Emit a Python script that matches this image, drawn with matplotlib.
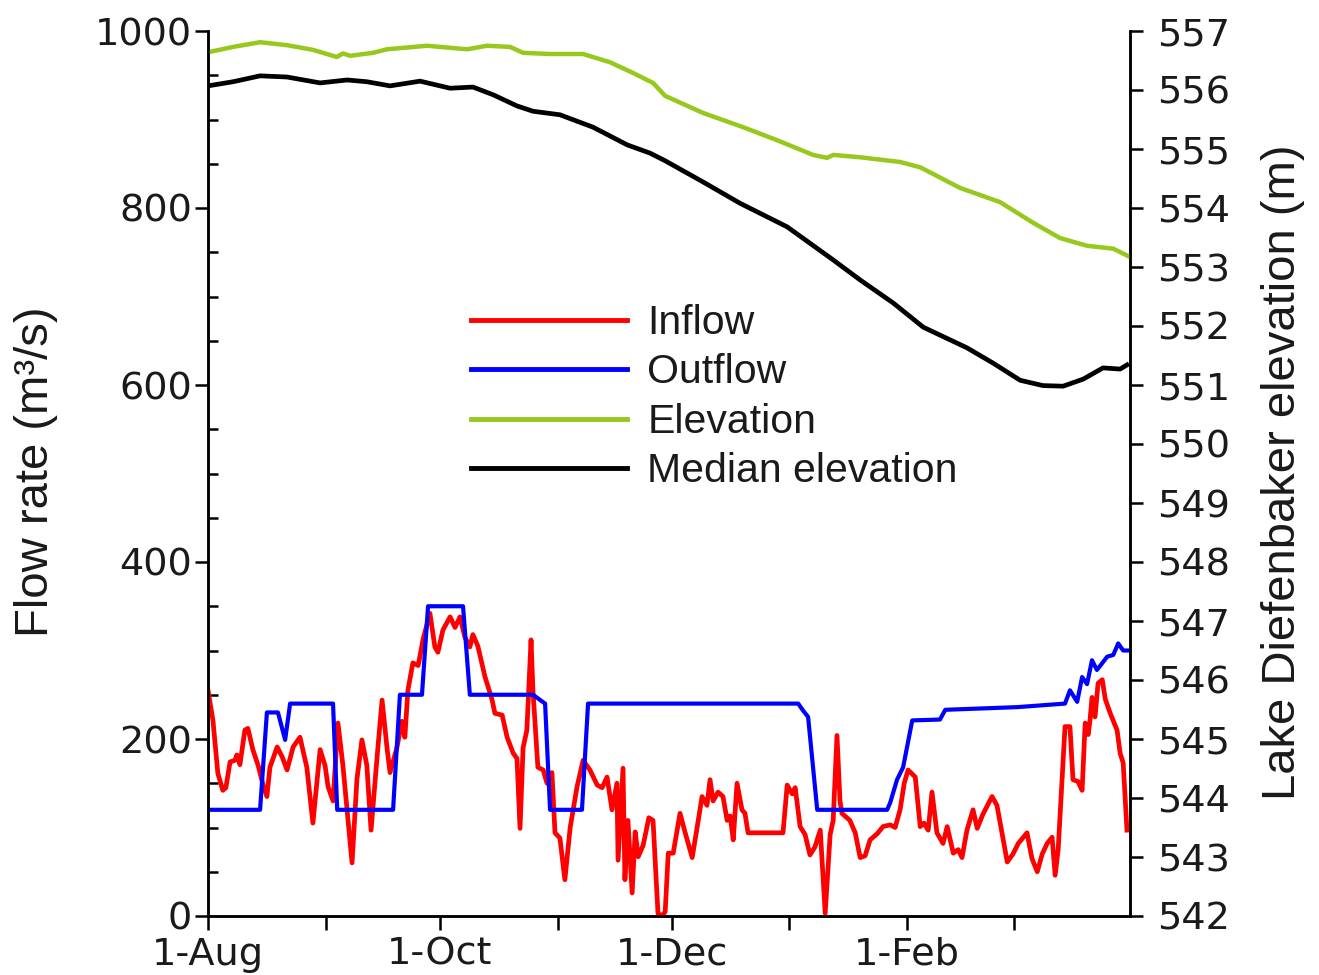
import matplotlib
matplotlib.use("Agg")
import pandas as pd
import matplotlib.pyplot as plt
from matplotlib.lines import Line2D
from matplotlib.ticker import MultipleLocator

# Lake Diefenbaker operation, 1-Aug to 1-Apr
# x values are days after 1-Aug
start = pd.Timestamp("2014-08-01")
end = pd.Timestamp("2015-04-01")

# Inflow (m3/s)
inflow_day = [0, 1.3, 2.6, 3.9, 4.7, 5.8, 7.1, 7.6, 8.4, 9.7, 10.5, 11.8, 13.2, 14.5,
              15.5, 16.3, 18.2, 19.5, 20.8, 22.4, 24.2, 26, 27.6, 29.5, 30.8, 31.6,
              32.9, 34.2, 35.5, 37.9, 39.2, 40.5, 41.8, 42.9, 44.5, 45.8, 47.1, 47.9,
              49.7, 51, 51.8, 52.6, 53.9, 55.3, 56.6, 58.4, 59.7, 60.5, 61.8, 63.7,
              65, 66.3, 67.6, 68.9, 69.7, 71, 72.9, 74.7, 75.5, 77.4, 78.7, 80.3,
              81.3, 82.1, 82.9, 83.9, 85, 85.5, 86.8, 88.2, 89.2, 90.5, 91.3, 92.6,
              93.9, 95.3, 97.1, 98.7, 100.5, 102.4, 103.7, 105, 106.3, 107.6, 107.9,
              109.2, 109.7, 110.5, 111.6, 112.4, 113.2, 114.5, 116, 117.1, 118.4,
              119.5, 120.3, 121.1, 122.4, 124.2, 125.5, 127.4, 128.7, 130, 131.3,
              132.1, 132.9, 134.2, 135.5, 136.6, 137.4, 138.2, 139.2, 140.5, 141.3,
              142.1, 151.3, 152.4, 153.7, 154.5, 155.8, 157.1, 158.4, 159.7, 161.1,
              162.4, 163.7, 164.5, 165.5, 166.3, 166.8, 168.9, 170.3, 171.6, 172.9,
              174.2, 176.1, 177.6, 179.5, 180.8, 182.1, 183.2, 184.2, 186.1, 187.4,
              188.4, 189.5, 190.5, 191.8, 193.4, 194.5, 196.1, 197.4, 198.4, 199.7,
              201.3, 202.4, 203.9, 206.3, 207.6, 208.9, 210.3, 211.8, 213.2, 215.5,
              216.8, 218.2, 219.5, 220.8, 222.1, 222.9, 223.7, 225.5, 226.8, 227.6,
              228.9, 230, 230.8, 231.6, 232.1, 232.6, 233.4, 234.2, 235.3, 236.1,
              237.4, 239.2, 240, 240.8, 241.8]
inflow = [255, 221, 161, 142, 145, 174, 176, 182, 171, 210, 212, 188, 170, 148,
          135, 168, 191, 180, 165, 191, 202, 168, 105, 188, 170, 146,
          130, 218, 170, 60, 155, 199, 170, 97, 180, 244, 190, 162,
          190, 220, 202, 255, 286, 283, 313, 342, 304, 298, 323, 338,
          326, 338, 315, 304, 318, 305, 270, 245, 229, 227, 202, 184,
          178, 99, 190, 210, 312, 255, 168, 165, 150, 162, 94, 88,
          41, 100, 146, 176, 165, 148, 145, 157, 120, 150, 63,
          167, 41, 108, 26, 95, 67, 80, 111, 108, 3,
          0, 5, 71, 71, 116, 95, 66, 100, 135, 125,
          154, 130, 140, 135, 108, 113, 86, 150, 120, 116,
          94, 94, 148, 138, 145, 101, 92, 69, 78, 97,
          3, 92, 108, 204, 130, 116, 108, 94, 66, 68,
          86, 93, 101, 103, 100, 120, 150, 165, 157, 101,
          105, 97, 140, 94, 82, 101, 71, 75, 66, 97,
          120, 99, 115, 135, 125, 94, 61, 70, 82, 94,
          65, 50, 70, 82, 89, 46, 75, 214, 214, 154,
          152, 142, 218, 205, 222, 247, 225, 263, 267, 245,
          229, 210, 184, 173, 97]

# Outflow (m3/s)
outflow_day = [0, 13.7, 15.5, 18.4, 20.3, 21.6, 32.9, 34, 48.7, 50.5, 56.3, 57.9,
               67.1, 68.9, 85.5, 88.7, 90, 98.4, 100, 155.3, 156.6, 157.9, 160.3,
               178.7, 179.5, 181.3, 182.9, 185.3, 192.6, 194, 212.9, 225.5, 226.8,
               228.7, 230, 231.3, 232.6, 233.9, 236.6, 238.2, 239.5, 240.8, 242.1]
outflow = [120, 120, 230, 230, 199, 240, 240, 120, 120, 250, 250, 350,
           350, 250, 250, 240, 120, 120, 240, 240, 232, 225, 120,
           120, 128, 154, 168, 221, 222, 233, 236, 240, 255,
           242, 270, 262, 289, 278, 293, 295, 308, 300, 300]

# Lake elevation (m)
elev_day = [0, 6.6, 13.7, 20.8, 27.6, 33.9, 35.5, 37.4, 43.4, 47.1, 57.6, 68.2,
            73.4, 79.5, 82.9, 90, 98.7, 105.8, 111.8, 117.1, 120.3, 130.3, 140.8,
            149.7, 159.2, 162.9, 164.5, 171.6, 182.1, 187.4, 197.9, 208.4, 217.1,
            224.2, 231.3, 238.2, 242.6]
elev = [556.64, 556.73, 556.81, 556.76, 556.68, 556.56, 556.62, 556.58, 556.63,
        556.69, 556.75, 556.69, 556.75, 556.73, 556.63, 556.61, 556.61, 556.47,
        556.29, 556.12, 555.90, 555.61, 555.37, 555.15, 554.90, 554.85, 554.90,
        554.86, 554.78, 554.69, 554.34, 554.10, 553.75, 553.49, 553.36, 553.31,
        553.17]

# Median elevation (m)
median_day = [0, 6.6, 13.7, 20.8, 29.5, 36.6, 41.8, 47.9, 55.8, 63.7, 69.7, 75,
              81.3, 85.5, 92.6, 101.3, 110.3, 116.3, 120.3, 130.3, 140, 152.4,
              164.5, 171.6, 180.3, 188.2, 199.7, 206.6, 213.7, 219.7, 225, 230.3,
              235.5, 240, 241.8]
median = [556.07, 556.14, 556.24, 556.22, 556.12, 556.17, 556.14, 556.07, 556.15,
          556.03, 556.05, 555.92, 555.73, 555.64, 555.58, 555.37, 555.07, 554.93,
          554.80, 554.44, 554.08, 553.68, 553.12, 552.78, 552.39, 551.98, 551.63,
          551.37, 551.08, 550.99, 550.98, 551.10, 551.29, 551.27, 551.34]

series_labels = ["Inflow", "Outflow", "Elevation", "Median elevation"]
colors = ["#ff0000", "#0000ff", "#96c81e", "#000000"]

months = pd.date_range(start, end - pd.Timedelta(days=1), freq="MS")
month_pos = [(m - start).days for m in months]
month_text = [f"{m.day}-{m:%b}" for m in months]

W, H = 1319, 975
fig = plt.figure(figsize=(W / 100, H / 100), dpi=100)
ax = fig.add_axes([208 / W, 59 / H, 922 / W, 885 / H])
ax2 = ax.twinx()

ax.plot(inflow_day, inflow, color=colors[0], lw=3.4, zorder=3)
ax.plot(outflow_day, outflow, color=colors[1], lw=3.0, zorder=4)
ax2.plot(elev_day, elev, color=colors[2], lw=3.2)
ax2.plot(median_day, median, color=colors[3], lw=3.4)

ax.set_xlim(0, (end - start).days - 0.4)
ax.set_ylim(0, 1000)
ax2.set_ylim(542, 557)

tick_font = dict(family="DejaVu Sans", size=27.5)
ax.set_xticks(month_pos[::2])
ax.set_xticklabels(month_text[::2], fontdict=tick_font, color="#1a1a1a")
ax.set_xticks(month_pos[1::2], minor=True)
ax.set_yticks(range(0, 1001, 200))
ax.set_yticklabels([str(v) for v in range(0, 1001, 200)], fontdict=tick_font, color="#1a1a1a")
ax.yaxis.set_minor_locator(MultipleLocator(50))
ax2.set_yticks(range(542, 558))
ax2.set_yticklabels([str(v) for v in range(542, 558)], fontdict=tick_font, color="#1a1a1a")

for a in (ax, ax2):
    a.spines["top"].set_visible(False)
    for s in a.spines.values():
        s.set_linewidth(1.8)

ax.tick_params(axis="x", which="both", direction="out", length=10, width=1.8, pad=5)
ax.tick_params(axis="y", which="major", direction="out", length=9.5, width=1.8, pad=2)
ax.tick_params(axis="y", which="minor", direction="in", length=7, width=1.8)
ax2.tick_params(axis="y", which="major", direction="out", length=9.5, width=1.8, pad=10)

label_font = dict(family="Liberation Sans", size=34, color="#1a1a1a")
fig.text(36 / W, 1 - 472 / H, "Flow rate (m\u00b3/s)", rotation=90, ha="center", va="center",
         **label_font)
fig.text(1283 / W, 1 - 472 / H, "Lake Diefenbaker elevation (m)", rotation=90, ha="center",
         va="center", **label_font)

handles = [Line2D([], [], color=c, lw=3.5) for c in colors]
leg = ax.legend(handles, series_labels, loc="upper left", bbox_to_anchor=(471 / W, 1 - 304 / H),
                bbox_transform=fig.transFigure, frameon=False, borderpad=0, borderaxespad=0,
                handlelength=3.8, handletextpad=0.5, labelspacing=0.28,
                prop=dict(family="Liberation Sans", size=29.5))
for t in leg.get_texts():
    t.set_color("#1a1a1a")

fig.savefig("out.png", dpi=100)
